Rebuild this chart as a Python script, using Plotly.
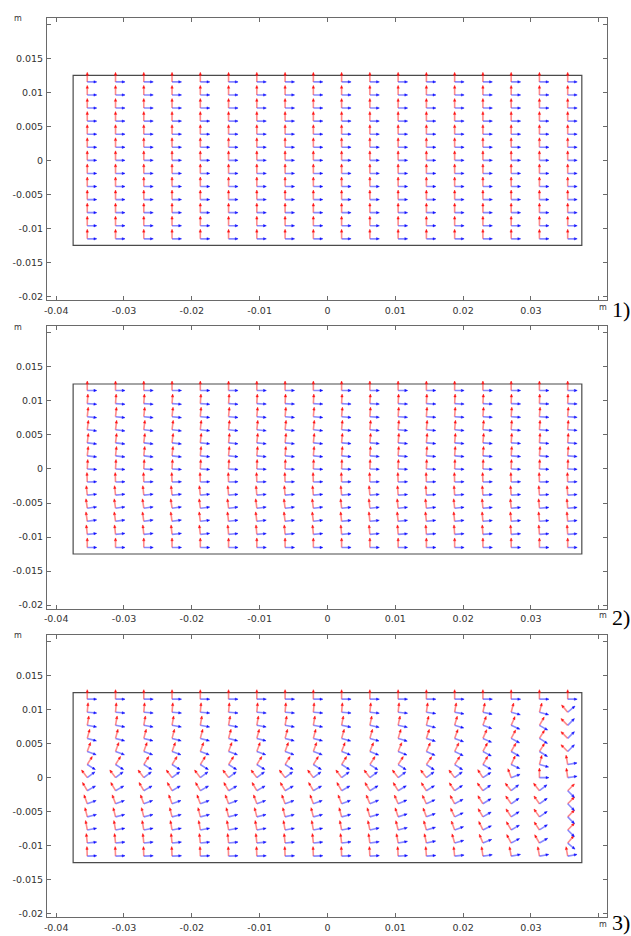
import math
import plotly.graph_objects as go

# ---------------- data ----------------
X_POS = [-0.035417, -0.03125, -0.027083, -0.022917, -0.01875, -0.014583,
         -0.010417, -0.00625, -0.002083, 0.002083, 0.00625, 0.010417,
         0.014583, 0.01875, 0.022917, 0.027083, 0.03125, 0.035417]
Y_POS = [0.011538, 0.009615, 0.007692, 0.005769, 0.003846, 0.001923, 0.0,
         -0.001923, -0.003846, -0.005769, -0.007692, -0.009615, -0.011538]

DOMAIN_X = [-0.0375, 0.0375]
DOMAIN_Y = [-0.0125, 0.0125]

X_TICKS = [-0.04, -0.03, -0.02, -0.01, 0.0, 0.01, 0.02, 0.03, 0.04]
X_TICKTEXT = ["-0.04", "-0.03", "-0.02", "-0.01", "0", "0.01", "0.02", "0.03", ""]
Y_TICKS = [-0.02, -0.015, -0.01, -0.005, 0.0, 0.005, 0.01, 0.015, 0.02]
Y_TICKTEXT = ["-0.02", "-0.015", "-0.01", "-0.005", "0", "0.005", "0.01", "0.015", ""]
PANEL_LABELS = ["1)", "2)", "3)"]

# rotation angles (degrees, counter-clockwise) of the red and blue vectors, rows top->bottom
P1_RED = [
    [0, 0, 0, 0, 0, 0, 0, 0, 0, 0, 0, 0, 0, 0, 0, 0, 0, 0],
    [0, 0, 0, 0, 0, 0, 0, 0, 0, 0, 0, 0, 0, 0, 0, 0, 0, 0],
    [0, 0, 0, 0, 0, 0, 0, 0, 0, 0, 0, 0, 0, 0, 0, 0, 0, 0],
    [0, 0, 0, 0, 0, 0, 0, 0, 0, 0, 0, 0, 0, 0, 0, 0, 0, 0],
    [0, 0, 0, 0, 0, 0, 0, 0, 0, 0, 0, 0, 0, 0, 0, 0, 0, 0],
    [0, 0, 0, 0, 0, 0, 0, 0, 0, 0, 0, 0, 0, 0, 0, 0, 0, 0],
    [0, 0, 0, 0, 0, 0, 0, 0, 0, 0, 0, 0, 0, 0, 0, 0, 0, 0],
    [0, 0, 0, 0, 0, 0, 0, 0, 0, 0, 0, 0, 0, 0, 0, 0, 0, 0],
    [0, 0, 0, 0, 0, 0, 0, 0, 0, 0, 0, 0, 0, 0, 0, 0, 0, 0],
    [0, 0, 0, 0, 0, 0, 0, 0, 0, 0, 0, 0, 0, 0, 0, 0, 0, 0],
    [0, 0, 0, 0, 0, 0, 0, 0, 0, 0, 0, 0, 0, 0, 0, 0, 0, 0],
    [0, 0, 0, 0, 0, 0, 0, 0, 0, 0, 0, 0, 0, 0, 0, 0, 0, 0],
    [0, 0, 0, 0, 0, 0, 0, 0, 0, 0, 0, 0, 0, 0, 0, 0, 0, 0],
]
P1_BLUE = [row[:] for row in P1_RED]

P2_RED = [
    [0, 0, 0, 0, 0, 0, 0, 0, 0, 0, 0, 0, 0, 0, 0, 0, 0, 0],
    [-4, -4, -4, -4, -4, -4, -3, -3, -3, -3, -3, -3, -3, -3, -3, -2, -2, -2],
    [-6, -6, -6, -6, -5, -5, -5, -5, -5, -5, -4, -4, -4, -4, -4, -4, -4, -4],
    [-7, -7, -7, -7, -6, -6, -6, -6, -6, -5, -5, -5, -5, -5, -5, -4, -4, -4],
    [-7, -7, -7, -7, -6, -6, -6, -6, -6, -5, -5, -5, -5, -5, -5, -4, -4, -4],
    [-6, -6, -6, -6, -5, -5, -5, -5, -5, -5, -4, -4, -4, -4, -4, -4, -4, -4],
    [-3, -3, -3, -3, -3, -3, -2, -2, -2, -2, -2, -2, -2, -2, -2, -2, -2, -2],
    [2, 2, 2, 2, 2, 2, 2, 2, 2, 2, 2, 2, 2, 2, 2, 2, 2, 2],
    [6, 6, 6, 6, 6, 5, 5, 5, 5, 5, 5, 4, 4, 4, 4, 4, 4, 4],
    [8, 8, 8, 8, 7, 7, 7, 7, 7, 6, 6, 6, 6, 6, 5, 5, 5, 5],
    [8, 8, 8, 8, 7, 7, 7, 7, 7, 6, 6, 6, 6, 6, 5, 5, 5, 5],
    [6, 6, 6, 6, 6, 5, 5, 5, 5, 5, 5, 4, 4, 4, 4, 4, 4, 4],
    [0, 0, 0, 0, 0, 0, 0, 0, 0, 0, 0, 0, 0, 0, 0, 0, 0, 0],
]
P2_BLUE = [row[:] for row in P2_RED]

P3_RED = [
    [0, 0, 0, 0, 0, 0, 0, 0, 0, 0, 0, 0, 0, 0, 0, 0, 0, 0],
    [-5, -5, -5, -5, -5, -5, -5, -5, -5, -5, -6, -6, -8, -10, -12, -15, -15, 40],
    [-10, -10, -10, -10, -10, -10, -10, -10, -10, -11, -12, -12, -14, -16, -20, -24, -30, 45],
    [-15, -15, -15, -15, -15, -15, -15, -15, -15, -16, -16, -17, -18, -20, -24, -28, -32, 45],
    [-20, -20, -20, -20, -20, -20, -20, -20, -20, -21, -22, -22, -24, -26, -28, -30, -32, 45],
    [-32, -32, -32, -32, -32, -32, -32, -32, -32, -32, -33, -33, -34, -33, -30, -25, -15, 10],
    [37, 37, 37, 37, 37, 37, 37, 37, 37, 37, 37, 37, 37, 37, 33, 20, 0, 8],
    [30, 30, 30, 30, 30, 30, 30, 30, 30, 30, 31, 31, 32, 34, 36, 38, 38, -45],
    [20, 20, 20, 20, 20, 20, 20, 20, 20, 21, 22, 23, 25, 28, 32, 35, 35, -45],
    [14, 14, 14, 14, 14, 14, 14, 14, 14, 15, 16, 18, 20, 25, 30, 33, 35, -45],
    [10, 10, 10, 10, 10, 10, 10, 10, 10, 11, 12, 14, 16, 20, 26, 30, 33, -45],
    [6, 6, 6, 6, 6, 6, 6, 6, 6, 7, 8, 10, 12, 16, 22, 28, 30, -40],
    [2, 2, 2, 2, 2, 2, 2, 2, 2, 2, 3, 3, 4, 6, 8, 10, 10, 10],
]
P3_BLUE = [row[:] for row in P3_RED]

PANELS = [(P1_RED, P1_BLUE), (P2_RED, P2_BLUE), (P3_RED, P3_BLUE)]

# ---------------- style ----------------
ARROW_LEN = 0.0014
HEAD_LEN = 0.00042
HEAD_HALF = 0.00017
RED_SHAFT = "rgba(255,60,60,0.6)"
RED_HEAD = "#ff1010"
BLUE_SHAFT = "rgba(60,60,255,0.6)"
BLUE_HEAD = "#1010ff"

W, H = 631, 936
X_LEFT_PX, X_RIGHT_PX = 44.3, 606.8
PANEL_TOP_PX = [17.7, 327.0, 636.3]
PANEL_H_PX = 283.0
LABEL_DY_PX = [9, 9, 5]
X_RANGE = [-0.04134, 0.04120]
Y_RANGE = [-0.02054, 0.02098]

fig = go.Figure()


def arrow_geom(x0, y0, ang_deg, base_deg):
    a = math.radians(base_deg + ang_deg)
    ux, uy = math.cos(a), math.sin(a)
    tx, ty = x0 + ARROW_LEN * ux, y0 + ARROW_LEN * uy
    bx, by = tx - HEAD_LEN * ux, ty - HEAD_LEN * uy
    px, py = -uy, ux
    shaft = ([x0, bx, None], [y0, by, None])
    head = ([tx, bx + HEAD_HALF * px, bx - HEAD_HALF * px, tx, None],
            [ty, by + HEAD_HALF * py, by - HEAD_HALF * py, ty, None])
    return shaft, head


for p, (red, blue) in enumerate(PANELS):
    xa = "x" if p == 0 else f"x{p+1}"
    ya = "y" if p == 0 else f"y{p+1}"
    fig.add_shape(type="rect", xref=xa, yref=ya,
                  x0=DOMAIN_X[0], x1=DOMAIN_X[1], y0=DOMAIN_Y[0], y1=DOMAIN_Y[1],
                  line=dict(color="#4a4a4a", width=1.2), layer="below")
    for color_arr, base, sc, hc in ((red, 90, RED_SHAFT, RED_HEAD), (blue, 0, BLUE_SHAFT, BLUE_HEAD)):
        sx, sy, hx, hy = [], [], [], []
        for j, yv in enumerate(Y_POS):
            for i, xv in enumerate(X_POS):
                (a, b), (c, d) = arrow_geom(xv, yv, color_arr[j][i], base)
                sx += a; sy += b; hx += c; hy += d
        fig.add_trace(go.Scatter(x=sx, y=sy, mode="lines", xaxis=xa, yaxis=ya,
                                 line=dict(color=sc, width=1.6), hoverinfo="skip",
                                 showlegend=False))
        fig.add_trace(go.Scatter(x=hx, y=hy, mode="lines", fill="toself", fillcolor=hc,
                                 xaxis=xa, yaxis=ya, line=dict(color=hc, width=0.5),
                                 hoverinfo="skip", showlegend=False))

layout = dict(width=W, height=H, margin=dict(l=0, r=0, t=0, b=0),
              paper_bgcolor="white", plot_bgcolor="white", showlegend=False)

axis_common = dict(showgrid=False, zeroline=False, showline=True, linecolor="#6a6a6a",
                   linewidth=1.2, mirror="ticks", ticks="inside", ticklen=4,
                   tickcolor="#6a6a6a", tickfont=dict(family="DejaVu Sans", size=9.5, color="#333333"))

annotations = []
for p in range(3):
    top = PANEL_TOP_PX[p]
    bot = top + PANEL_H_PX
    suffix = "" if p == 0 else str(p + 1)
    layout["xaxis" + suffix] = dict(axis_common, domain=[X_LEFT_PX / W, X_RIGHT_PX / W],
                                    range=X_RANGE, tickvals=X_TICKS, ticktext=X_TICKTEXT,
                                    anchor="y" + suffix, ticklabelstandoff=1)
    layout["yaxis" + suffix] = dict(axis_common, domain=[1 - bot / H, 1 - top / H],
                                    range=Y_RANGE, tickvals=Y_TICKS, ticktext=Y_TICKTEXT,
                                    anchor="x" + suffix, ticklabelstandoff=1)
    annotations.append(dict(text="m", xref="paper", yref="paper", x=15 / W,
                            y=1 - (top + 1) / H,
                            showarrow=False, xanchor="center", yanchor="middle",
                            font=dict(family="DejaVu Sans", size=8, color="#333333")))
    annotations.append(dict(text="m", xref="paper", yref="paper", x=603 / W,
                            y=1 - (bot + 7) / H,
                            showarrow=False, xanchor="center", yanchor="middle",
                            font=dict(family="DejaVu Sans", size=8, color="#333333")))
    annotations.append(dict(text=PANEL_LABELS[p], xref="paper", yref="paper", x=1.0,
                            y=1 - (bot + LABEL_DY_PX[p]) / H, showarrow=False, xanchor="right",
                            yanchor="middle", borderpad=0,
                            font=dict(family="Liberation Serif", size=22, color="#000000")))
layout["annotations"] = annotations
fig.update_layout(**layout)

fig.write_html("out.html", config={"displayModeBar": False},
               post_script="document.body.style.margin='0px';document.body.style.overflow='hidden';")
